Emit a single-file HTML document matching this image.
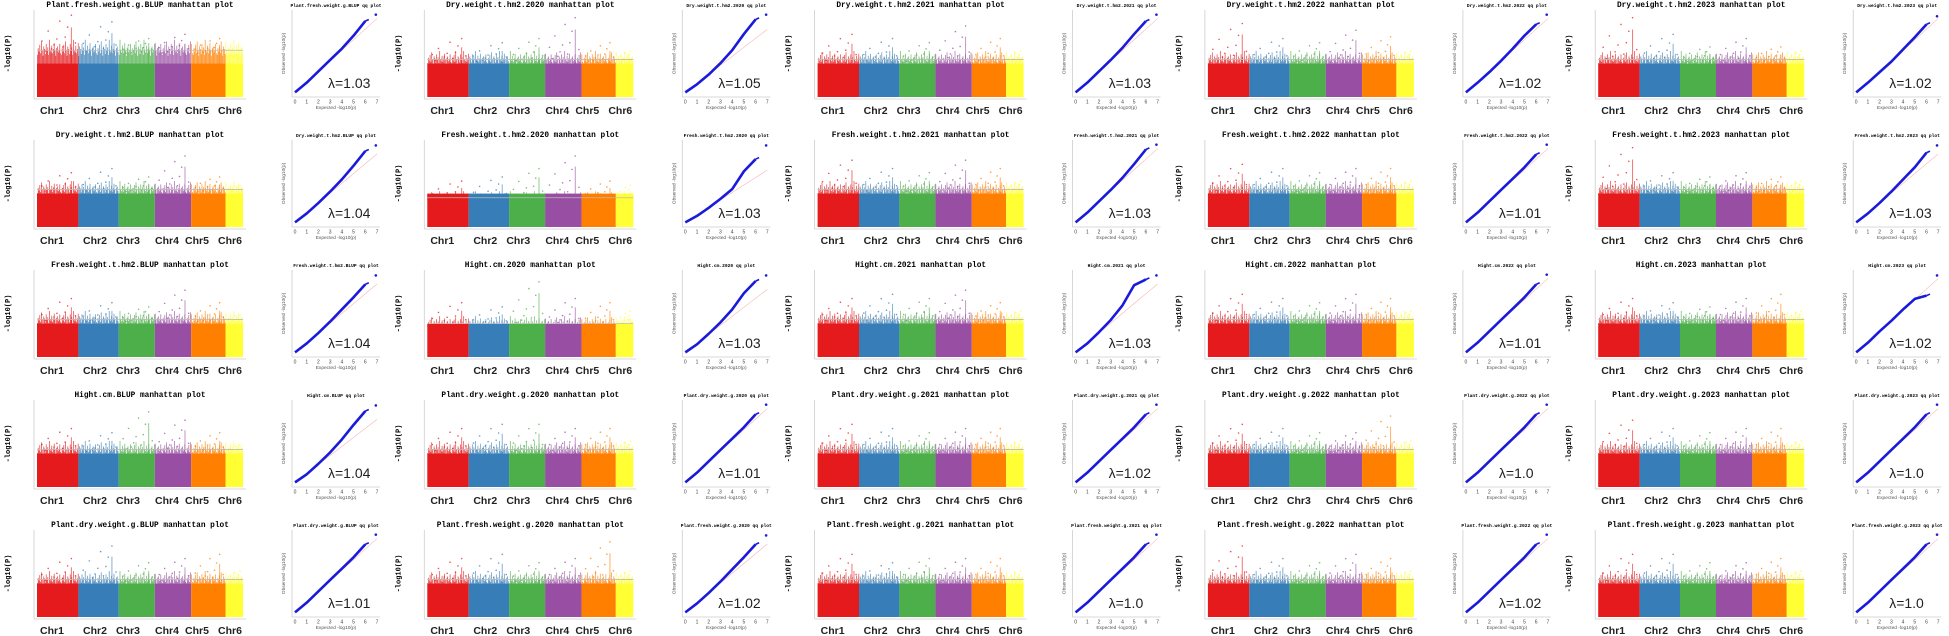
<!DOCTYPE html>
<html><head><meta charset="utf-8"><style>
html,body{margin:0;padding:0;background:#fff;width:1949px;height:636px;overflow:hidden}
svg{display:block}
</style></head><body>
<svg id="fig" width="1949" height="636" viewBox="0 0 1949 636" xmlns="http://www.w3.org/2000/svg"></svg>
<script>
const traits = [
 "Plant.fresh.weight.g.BLUP","Dry.weight.t.hm2.2020","Dry.weight.t.hm2.2021","Dry.weight.t.hm2.2022","Dry.weight.t.hm2.2023",
 "Dry.weight.t.hm2.BLUP","Fresh.weight.t.hm2.2020","Fresh.weight.t.hm2.2021","Fresh.weight.t.hm2.2022","Fresh.weight.t.hm2.2023",
 "Fresh.weight.t.hm2.BLUP","Hight.cm.2020","Hight.cm.2021","Hight.cm.2022","Hight.cm.2023",
 "Hight.cm.BLUP","Plant.dry.weight.g.2020","Plant.dry.weight.g.2021","Plant.dry.weight.g.2022","Plant.dry.weight.g.2023",
 "Plant.dry.weight.g.BLUP","Plant.fresh.weight.g.2020","Plant.fresh.weight.g.2021","Plant.fresh.weight.g.2022","Plant.fresh.weight.g.2023"];
const lambdas = ["1.03","1.05","1.03","1.02","1.02","1.04","1.03","1.03","1.01","1.03","1.04","1.03","1.03","1.01","1.02","1.04","1.01","1.02","1.0","1.0","1.01","1.02","1.0","1.02","1.0"];
const thresholds = [0.56,0.45,0.45,0.45,0.45,0.45,0.35,0.45,0.45,0.45,0.45,0.40,0.45,0.45,0.45,0.45,0.45,0.45,0.45,0.45,0.45,0.45,0.45,0.45,0.45];
const peaks = [
 [0.98,0.90,0.70,0.75,0.70,0.45],[0.70,0.65,0.70,0.95,0.65,0.55],[0.75,0.70,0.65,0.85,0.70,0.55],[0.88,0.70,0.65,0.80,0.72,0.55],[0.95,0.75,0.60,0.70,0.60,0.55],
 [0.65,0.70,0.60,0.85,0.60,0.50],[0.55,0.60,0.70,0.85,0.55,0.50],[0.80,0.70,0.65,0.80,0.70,0.55],[0.75,0.70,0.65,0.70,0.70,0.55],[0.95,0.65,0.60,0.65,0.60,0.55],
 [0.70,0.65,0.60,0.80,0.65,0.50],[0.65,0.60,0.90,0.70,0.65,0.55],[0.70,0.75,0.70,0.80,0.65,0.55],[0.75,0.70,0.65,0.75,0.70,0.55],[0.70,0.65,0.60,0.70,0.75,0.55],
 [0.70,0.65,0.90,0.80,0.65,0.50],[0.70,0.75,0.75,0.70,0.70,0.55],[0.75,0.70,0.65,0.70,0.70,0.55],[0.75,0.70,0.65,0.65,0.85,0.55],[0.80,0.70,0.65,0.70,0.70,0.55],
 [0.70,0.85,0.65,0.70,0.75,0.55],[0.70,0.75,0.65,0.70,0.90,0.55],[0.75,0.65,0.70,0.70,0.70,0.55],[0.85,0.70,0.65,0.75,0.70,0.55],[0.75,0.75,0.65,0.65,0.70,0.55]];
const qqExpected = [0,1,2,3,4,5,6,7];
const qqObs = [
 [0.02,0.14,0.28,0.42,0.56,0.72,0.90,0.98],[0.02,0.12,0.24,0.38,0.54,0.74,0.92,0.98],[0.02,0.14,0.28,0.42,0.57,0.74,0.90,0.98],[0.02,0.14,0.27,0.41,0.56,0.72,0.86,0.98],[0.02,0.14,0.27,0.40,0.55,0.70,0.86,0.96],
 [0.02,0.13,0.26,0.40,0.55,0.72,0.90,0.97],[0.02,0.10,0.20,0.31,0.43,0.65,0.80,0.97],[0.02,0.14,0.28,0.42,0.57,0.74,0.92,0.98],[0.02,0.14,0.28,0.42,0.56,0.70,0.86,0.98],[0.02,0.13,0.26,0.40,0.55,0.70,0.88,0.97],
 [0.02,0.13,0.26,0.40,0.55,0.70,0.86,0.97],[0.02,0.12,0.25,0.39,0.55,0.75,0.90,0.97],[0.02,0.13,0.27,0.42,0.60,0.85,0.92,0.97],[0.02,0.14,0.28,0.42,0.56,0.70,0.86,0.98],[0.02,0.14,0.28,0.41,0.55,0.68,0.72,0.97],
 [0.02,0.12,0.25,0.39,0.55,0.73,0.90,0.97],[0.02,0.14,0.28,0.42,0.56,0.70,0.86,0.98],[0.02,0.14,0.28,0.42,0.56,0.70,0.86,0.98],[0.02,0.14,0.28,0.42,0.56,0.70,0.86,0.98],[0.02,0.14,0.28,0.42,0.56,0.70,0.86,0.98],
 [0.02,0.14,0.28,0.42,0.56,0.70,0.86,0.98],[0.02,0.13,0.26,0.40,0.55,0.70,0.86,0.97],[0.02,0.14,0.28,0.42,0.56,0.70,0.86,0.98],[0.02,0.14,0.28,0.42,0.56,0.70,0.86,0.98],[0.02,0.14,0.28,0.42,0.56,0.70,0.86,0.98]];
const chrNames = ["Chr1","Chr2","Chr3","Chr4","Chr5","Chr6"];
const chrSizes = [123,120,107,108,102,52];
const chrColors = ["#e41a1c","#377eb8","#4daf4a","#984ea3","#ff7f00","#ffff33"];
const fringe = [0.50,0.58,0.54,0.62,0.52,0.66,0.56,0.49,0.60,0.57,0.51,0.63,0.55,0.59,0.50,0.68,0.56,0.53,0.61,0.52,0.57,0.64,0.55,0.49,0.58,0.60,0.53,0.56,0.63,0.52];
const dotPattern = [[0.12,0.35],[0.27,0.6],[0.41,0.25],[0.55,0.85],[0.68,0.45],[0.83,1.0],[0.93,0.3],[0.35,0.15],[0.74,0.7],[0.2,0.1],[0.62,0.2],[0.48,0.4]];

const NS="http://www.w3.org/2000/svg";
const svg=document.getElementById('fig');
function mk(tag,attrs,parent){const e=document.createElementNS(NS,tag);for(const k in attrs)e.setAttribute(k,attrs[k]);(parent||svg).appendChild(e);return e;}

const colPitch=390.3,rowPitch=130,plotTop=10,plotH=87;
const mx0=37,mW=206,qx0=292,qW=88;
const totalChr=chrSizes.reduce((a,b)=>a+b,0);
const labelCenters=[52,95,128,167,197,230];

traits.forEach((t,i)=>{
  const r=Math.floor(i/5),c=i%5;
  const ox=c*colPitch, oy=r*rowPitch;
  const g=mk('g',{});
  
  
  const top=oy+plotTop, bot=top+plotH;
  const yS=f=>bot-f*plotH*0.96;
  const xS=v=>ox+mx0+v/totalChr*mW;
  const tt=mk('text',{x:ox+140,y:oy+7,'text-anchor':'middle','font-family':'Liberation Mono, monospace','font-weight':'bold','font-size':'7.8'},g);
  tt.textContent=t+' manhattan plot';
  
  
  const yl=mk('text',{x:0,y:0,transform:`translate(${ox+10},${top+plotH/2}) rotate(-90)`,'text-anchor':'middle','font-family':'Liberation Mono, monospace','font-weight':'bold','font-size':'7'},g);
  yl.textContent='-log10(P)';
  
  
  mk('line',{x1:ox+mx0-3,y1:top,x2:ox+mx0-3,y2:bot+2,stroke:'#ccc','stroke-width':0.8},g);
  mk('line',{x1:ox+mx0-3,y1:bot+2,x2:ox+mx0+mW+3,y2:bot+2,stroke:'#ccc','stroke-width':0.8},g);
  const th=thresholds[i];
  let cum=0;
  chrSizes.forEach((s,k)=>{
    const x1=xS(cum),x2=xS(cum+s);
    const cg=mk('g',{},g);
    
    
    mk('rect',{x:x1,y:yS(0.40),width:x2-x1,height:bot-yS(0.40),fill:chrColors[k]},cg);
    const n=Math.round((x2-x1)/0.8);
    for(let j=0;j<n;j++){
      const f=fringe[(j+k*7)%fringe.length]*(th/0.5)*0.9;
      mk('line',{x1:x1+j*0.8+0.4,y1:yS(0.39),x2:x1+j*0.8+0.4,y2:yS(Math.min(f,0.95)),stroke:chrColors[k],'stroke-width':0.7,opacity:0.85},cg);
    }
    const pk=peaks[i][k];
    dotPattern.forEach(([px,ph])=>{
      const f=th*0.9+(pk-th*0.9)*ph;
      mk('circle',{cx:x1+px*(x2-x1),cy:yS(f),r:0.8,fill:chrColors[k],opacity:0.75},cg);
    });
    mk('line',{x1:x1+0.83*(x2-x1),y1:yS(0.4),x2:x1+0.83*(x2-x1),y2:yS(pk*0.85),stroke:chrColors[k],'stroke-width':1,opacity:0.6},cg);
    const lab=mk('text',{x:ox+labelCenters[k],y:oy+114,'text-anchor':'middle','font-family':'Liberation Sans, sans-serif','font-weight':'bold','font-size':'10.5',fill:'#222'},g);
    lab.textContent=chrNames[k];
    
    
    cum+=s;
  });
  mk('line',{x1:ox+mx0,y1:yS(th),x2:ox+mx0+mW,y2:yS(th),stroke:'#bbb','stroke-width':0.8},g);

  const qb=bot, qt=top;
  const qx=e=>ox+qx0+3+e/7*(qW-6);
  const qy=f=>qb-3-f*(plotH-6);
  const qa=mk('polyline',{points:`${ox+qx0},${qt} ${ox+qx0},${qb} ${ox+qx0+qW},${qb}`,fill:'none',stroke:'#ccc','stroke-width':0.8},g);
  
  
  const qtit=mk('text',{x:ox+qx0+qW/2,y:oy+7,'text-anchor':'middle','font-family':'Liberation Mono, monospace','font-weight':'bold','font-size':'4.6'},g);
  qtit.textContent=t+' qq plot';
  
  
  const obs=qqObs[i];
  const ref=mk('line',{x1:qx(0),y1:qy(obs[0]),x2:qx(7),y2:qy(obs[1]*7*0.95),stroke:'#f8b8b8','stroke-width':0.6},g);
  
  
  const pts=qqExpected.slice(0,7).map((e,j)=>qx(e)+','+qy(obs[j])).join(' ');
  const pl=mk('polyline',{points:pts,fill:'none',stroke:'#1a1adb','stroke-width':2.6,'stroke-linejoin':'round'},g);
  
  
  mk('line',{x1:qx(6),y1:qy(obs[6]),x2:qx(6.3),y2:qy(obs[6]+0.02),stroke:'#1a1adb','stroke-width':1.6},g);
  const top1=mk('circle',{cx:qx(6.9),cy:qy(obs[7]),r:1.3,fill:'#1a1adb'},g);
  
  
  qqExpected.forEach(e=>{
    const tk=mk('text',{x:qx(e),y:oy+103.5,'text-anchor':'middle','font-family':'Liberation Sans, sans-serif','font-size':'5',fill:'#444'},g);
    tk.textContent=e;
    
    
  });
  const xt=mk('text',{x:ox+qx0+qW/2,y:oy+109,'text-anchor':'middle','font-family':'Liberation Sans, sans-serif','font-size':'4.8',fill:'#555'},g);
  xt.textContent='Expected -log10(p)';
  
  
  const yt=mk('text',{x:0,y:0,transform:`translate(${ox+qx0-7},${top+plotH/2}) rotate(-90)`,'text-anchor':'middle','font-family':'Liberation Sans, sans-serif','font-size':'4.8',fill:'#555'},g);
  yt.textContent='Observed -log10(p)';
  
  
  const lam=mk('text',{x:ox+328,y:oy+88,'font-family':'Liberation Sans, sans-serif','font-size':'14',fill:'#222'},g);
  lam.textContent='λ='+lambdas[i];
  
  
});
</script>
</body></html>
